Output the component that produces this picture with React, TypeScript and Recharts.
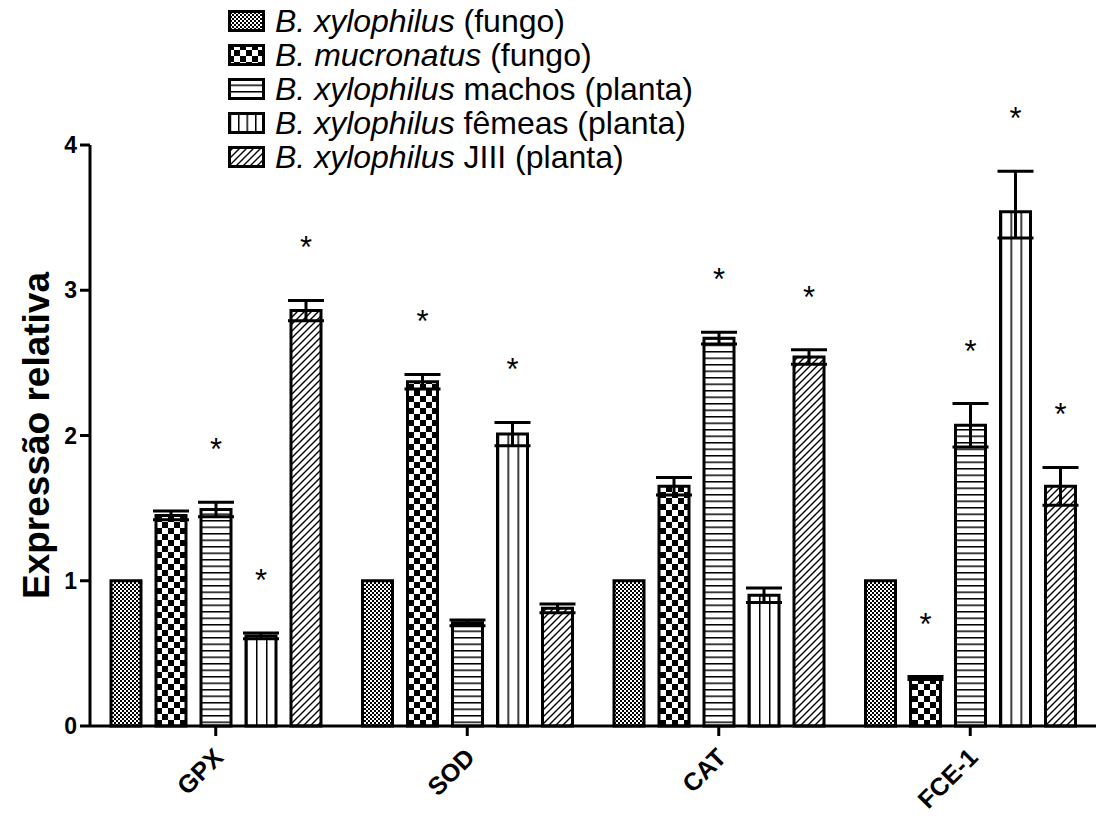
import { Bar, BarChart, ErrorBar, LabelList, XAxis, YAxis } from "recharts";

const categories = ["GPX", "SOD", "CAT", "FCE-1"];

const xyloFungo = [1, 1, 1, 1];
const mucroFungo = [1.45, 2.37, 1.65, 0.33];
const mucroFungoErr = [0.03, 0.05, 0.06, 0.01];
const machos = [1.49, 0.71, 2.67, 2.07];
const machosErr = [0.05, 0.02, 0.04, 0.15];
const femeas = [0.62, 2.01, 0.9, 3.54];
const femeasErr: (number | number[])[] = [0.02, 0.08, 0.05, [0.18, 0.28]];
const jiii = [2.86, 0.81, 2.54, 1.65];
const jiiiErr = [0.07, 0.03, 0.05, 0.13];

// asterisks (significant vs B. xylophilus fungo)
const mucroSig = [false, true, false, true];
const machosSig = [true, false, true, true];
const femeasSig = [true, true, false, true];
const jiiiSig = [true, false, true, true];

const yTicks = [0, 1, 2, 3, 4];

const data = categories.map((name, i) => ({
  name,
  s1: xyloFungo[i],
  s2: mucroFungo[i],
  e2: mucroFungoErr[i],
  s3: machos[i],
  e3: machosErr[i],
  s4: femeas[i],
  e4: femeasErr[i],
  s5: jiii[i],
  e5: jiiiErr[i],
}));

const FONT = "'Liberation Sans', Arial, sans-serif";

const star = (errs: (number | number[])[], sigs: boolean[]) => (props: any) => {
  const { x, y, width, height, value, index } = props;
  if (!sigs[index]) return null;
  const e = errs[index];
  const hi = Array.isArray(e) ? e[1] : e;
  const top = Number(y) - (hi * Number(height)) / Number(value);
  return (
    <text
      x={Number(x) + Number(width) / 2}
      y={top - 42}
      textAnchor="middle"
      fontSize={31}
      fontFamily={FONT}
      fill="#000"
    >
      *
    </text>
  );
};

const XTick = (props: any) => {
  const { x, y, payload } = props;
  const tx = x + 9;
  const ty = y + 21;
  return (
    <text
      x={tx}
      y={ty}
      transform={`rotate(-45, ${tx}, ${ty})`}
      textAnchor="end"
      fontSize={25}
      fontWeight="bold"
      fontFamily={FONT}
      fill="#000"
    >
      {payload.value}
    </text>
  );
};

const YLabel = (props: any) => {
  const vb = props.viewBox || {};
  const cy = vb.y + vb.height / 2;
  return (
    <text
      x={49}
      y={cy}
      transform={`rotate(-90, 49, ${cy})`}
      textAnchor="middle"
      fontSize={37}
      fontWeight="bold"
      fontFamily={FONT}
      fill="#000"
    >
      Expressão relativa
    </text>
  );
};

const legendItems = [
  { fill: "url(#p1)", sp: "B. xylophilus", rest: " (fungo)" },
  { fill: "url(#p2)", sp: "B. mucronatus", rest: " (fungo)" },
  { fill: "url(#p3)", sp: "B. xylophilus", rest: " machos (planta)" },
  { fill: "url(#p4leg)", sp: "B. xylophilus", rest: " fêmeas (planta)" },
  { fill: "url(#p5)", sp: "B. xylophilus", rest: " JIII (planta)" },
];

function Legend() {
  return (
    <div style={{ position: "absolute", left: 228, top: 4, fontFamily: FONT, fontSize: 32 }}>
      <svg width={0} height={0} style={{ position: "absolute" }}>
        <defs>
          <pattern id="p4leg" patternUnits="objectBoundingBox" width={0.25} height={1}>
            <line x1={0} y1={0} x2={0} y2={40} stroke="#000" strokeWidth={3} />
          </pattern>
        </defs>
      </svg>
      {legendItems.map((it) => (
        <div
          key={it.sp + it.rest}
          style={{ display: "flex", alignItems: "center", height: 34, whiteSpace: "nowrap" }}
        >
          <svg width={38} height={22}>
            <rect x={1.5} y={1.5} width={34} height={19} fill={it.fill} stroke="#000" strokeWidth={3} />
          </svg>
          <span style={{ marginLeft: 9, color: "#000", lineHeight: "34px" }}>
            <i>{it.sp}</i>
            {it.rest}
          </span>
        </div>
      ))}
    </div>
  );
}

export default function App() {
  const barProps = { stroke: "#000", strokeWidth: 3, isAnimationActive: false };
  const errProps = { width: 18, strokeWidth: 3, stroke: "#000", direction: "y" as const };
  return (
    <div style={{ position: "absolute", left: 0, top: 0, width: 1096, height: 816, background: "#fff" }}>
      <BarChart
        width={1096}
        height={816}
        data={data}
        margin={{ top: 145, right: 0, left: 30, bottom: 0 }}
        barGap={15}
        barCategoryGap={21}
      >
        <defs>
          <pattern id="p1" patternUnits="userSpaceOnUse" width={4} height={4}>
            <rect width={4} height={4} fill="#fff" />
            <rect x={0} y={0} width={2} height={2} fill="#000" />
            <rect x={2} y={2} width={2} height={2} fill="#000" />
          </pattern>
          <pattern id="p2" patternUnits="userSpaceOnUse" width={12} height={12}>
            <rect width={12} height={12} fill="#fff" />
            <rect x={0} y={0} width={6} height={6} fill="#000" />
            <rect x={6} y={6} width={6} height={6} fill="#000" />
          </pattern>
          <pattern id="p3" patternUnits="userSpaceOnUse" width={8} height={6.5}>
            <rect width={8} height={6.5} fill="#fff" />
            <line x1={0} y1={0.75} x2={8} y2={0.75} stroke="#000" strokeWidth={1.5} />
          </pattern>
          <pattern id="p4" patternUnits="objectBoundingBox" width={0.3333} height={1}>
            <rect width={40} height={800} fill="#fff" />
            <line x1={0} y1={0} x2={0} y2={800} stroke="#000" strokeWidth={3} />
          </pattern>
          <pattern id="p5" patternUnits="userSpaceOnUse" width={7} height={7}>
            <rect width={7} height={7} fill="#fff" />
            <path d="M-1,8 L8,-1 M-1,1 L1,-1 M6,8 L8,6" stroke="#000" strokeWidth={1.4} />
          </pattern>
        </defs>
        <XAxis
          dataKey="name"
          height={90}
          tick={<XTick />}
          tickSize={10}
          tickMargin={2}
          interval={0}
          axisLine={{ stroke: "#000", strokeWidth: 3 }}
          tickLine={{ stroke: "#000", strokeWidth: 3 }}
        />
        <YAxis
          width={60}
          domain={[0, 4]}
          ticks={yTicks}
          tickSize={10}
          tickMargin={3}
          axisLine={{ stroke: "#000", strokeWidth: 3 }}
          tickLine={{ stroke: "#000", strokeWidth: 3 }}
          tick={{ fontSize: 23, fontWeight: "bold", fill: "#000", fontFamily: FONT }}
          label={<YLabel />}
        />
        <Bar dataKey="s1" fill="url(#p1)" {...barProps} />
        <Bar dataKey="s2" fill="url(#p2)" {...barProps}>
          <ErrorBar dataKey="e2" {...errProps} />
          <LabelList dataKey="s2" content={star(mucroFungoErr, mucroSig)} />
        </Bar>
        <Bar dataKey="s3" fill="url(#p3)" {...barProps}>
          <ErrorBar dataKey="e3" {...errProps} />
          <LabelList dataKey="s3" content={star(machosErr, machosSig)} />
        </Bar>
        <Bar dataKey="s4" fill="url(#p4)" {...barProps}>
          <ErrorBar dataKey="e4" {...errProps} />
          <LabelList dataKey="s4" content={star(femeasErr, femeasSig)} />
        </Bar>
        <Bar dataKey="s5" fill="url(#p5)" {...barProps}>
          <ErrorBar dataKey="e5" {...errProps} />
          <LabelList dataKey="s5" content={star(jiiiErr, jiiiSig)} />
        </Bar>
      </BarChart>
      <Legend />
    </div>
  );
}
